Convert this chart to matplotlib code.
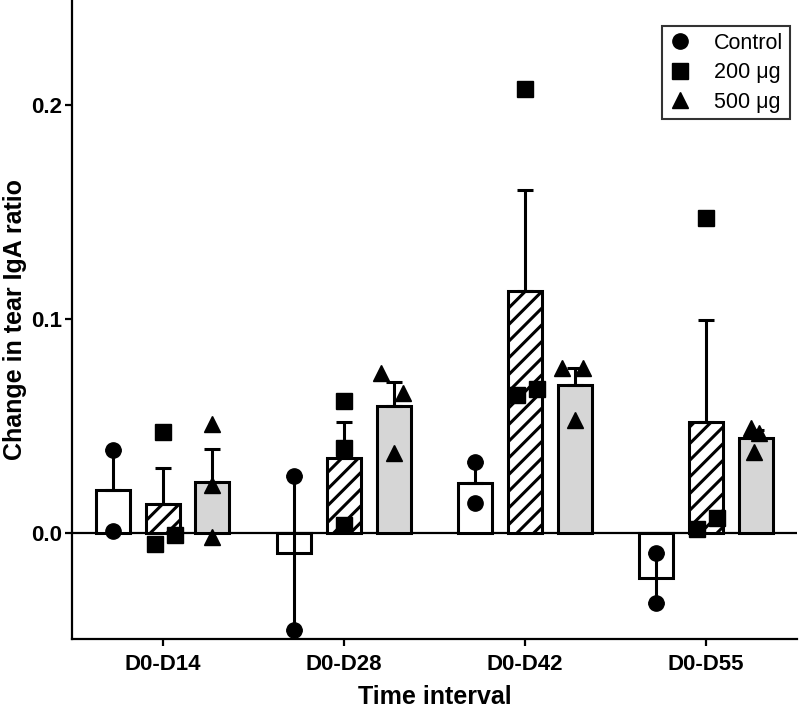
import numpy as np
import matplotlib.pyplot as plt
from matplotlib.lines import Line2D

plt.rcParams['font.family'] = ['Liberation Sans', 'DejaVu Sans']
plt.rcParams['hatch.linewidth'] = 2.2

intervals = ["D0-D14", "D0-D28", "D0-D42", "D0-D55"]
groups = ["Control", "200 \u03bcg", "500 \u03bcg"]

# individual animals per interval
control = [[0.039, 0.001], [0.0266, -0.0453], [0.0332, 0.014], [-0.0093, -0.0327]]
dose200 = [[0.047, -0.005, -0.001], [0.0617, 0.0397, 0.0037],
           [0.2075, 0.0645, 0.0673], [0.147, 0.0019, 0.007]]
dose500 = [[0.051, 0.0224, -0.002], [0.0748, 0.0654, 0.0374],
           [0.077, 0.077, 0.0528], [0.049, 0.0467, 0.038]]

# horizontal scatter of overlapping points (fraction of group spacing)
jit_control = [[0, 0], [0, 0], [0, 0], [0, 0]]
jit_200 = [[0, -0.044, 0.071], [0, 0, 0], [0, -0.044, 0.066], [0, -0.05, 0.06]]
jit_500 = [[0, 0, 0], [-0.071, 0.05, 0], [-0.071, 0.044, 0], [-0.027, 0.016, -0.011]]

series = [control, dose200, dose500]
jitters = [jit_control, jit_200, jit_500]
fills = ["white", "white", "#d6d6d6"]
hatches = [None, "//", None]
markers = ["o", "s", "^"]
msizes = [11, 12, 11.5]

fig = plt.figure(figsize=(8, 7.12), dpi=100)
ax = fig.add_axes([0.09, 0.1025, 0.906, 0.8975])

x = np.arange(len(intervals))
offset = 0.275
width = 0.187

for k, data in enumerate(series):
    means = np.array([np.mean(d) for d in data])
    sems = np.array([np.std(d, ddof=1) / np.sqrt(len(d)) for d in data])
    xpos = x + (k - 1) * offset
    ax.bar(xpos, means, width=width, color=fills[k], edgecolor="black",
           linewidth=2.2, hatch=hatches[k], zorder=2)
    lower = np.where(means < 0, sems, 0)
    ax.errorbar(xpos, means, yerr=[lower, sems], fmt="none", ecolor="black",
                elinewidth=2.2, capsize=6, capthick=2.2, zorder=3)
    for i, d in enumerate(data):
        px = xpos[i] + np.array(jitters[k][i])
        ax.plot(px, d, linestyle="none", marker=markers[k], ms=msizes[k],
                color="black", zorder=4)

ax.axhline(0, color="black", linewidth=1.6, zorder=1)

ax.set_xlim(-0.5, 3.5)
ax.set_ylim(-0.0495, 0.249)
ax.set_xticks(x)
ax.set_xticklabels(intervals, fontsize=16, fontweight="bold")
ax.set_yticks([0.0, 0.1, 0.2])
ax.set_yticklabels(["0.0", "0.1", "0.2"], fontsize=16, fontweight="bold")
ax.tick_params(axis="both", width=1.6, length=5, direction="out")
ax.tick_params(axis="x", pad=6)
ax.tick_params(axis="y", pad=2)

ax.spines["top"].set_visible(False)
ax.spines["right"].set_visible(False)
ax.spines["left"].set_linewidth(1.6)
ax.spines["bottom"].set_linewidth(1.6)

ax.set_xlabel("Time interval", fontsize=18, fontweight="bold", labelpad=7)
ax.set_ylabel("Change in tear IgA ratio", fontsize=18, fontweight="bold", labelpad=3)

handles = [Line2D([], [], linestyle="none", marker=m, ms=s, color="black")
           for m, s in zip(markers, msizes)]
leg = ax.legend(handles, groups, loc="upper right", bbox_to_anchor=(0.99, 0.959),
                fontsize=15.5, frameon=True, fancybox=False, handlelength=1.1,
                handletextpad=1.0, borderpad=0.3, labelspacing=0.4,
                borderaxespad=0)
leg.get_frame().set_edgecolor("black")
leg.get_frame().set_linewidth(1.5)

fig.savefig("out.png", dpi=100)
